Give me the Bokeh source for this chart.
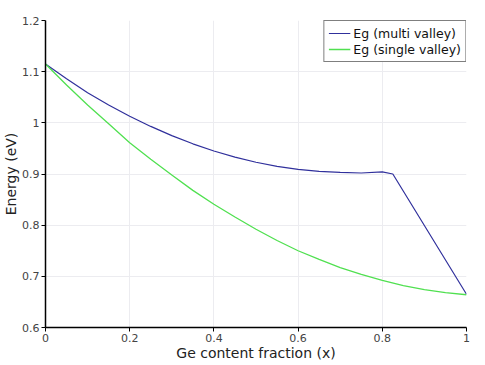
from bokeh.plotting import figure
from bokeh.embed import file_html
from bokeh.resources import INLINE
from bokeh.models import Range1d, FixedTicker, Legend, LegendItem

# Data
x_multi = [0.0, 0.05, 0.1, 0.15, 0.2, 0.25, 0.3, 0.35, 0.4, 0.45, 0.5, 0.55,
           0.6, 0.65, 0.7, 0.75, 0.8, 0.825, 1.0]
eg_multi = [1.115, 1.086, 1.059, 1.035, 1.013, 0.993, 0.975, 0.959, 0.945, 0.933,
            0.923, 0.915, 0.909, 0.905, 0.903, 0.902, 0.904, 0.900, 0.665]

x_single = [0.0, 0.05, 0.1, 0.15, 0.2, 0.25, 0.3, 0.35, 0.4, 0.45, 0.5, 0.55,
            0.6, 0.65, 0.7, 0.75, 0.8, 0.85, 0.9, 0.95, 1.0]
eg_single = [1.115, 1.074, 1.035, 0.998, 0.961, 0.929, 0.898, 0.868, 0.841, 0.816,
             0.792, 0.770, 0.750, 0.733, 0.717, 0.704, 0.692, 0.682, 0.674, 0.668, 0.664]

x_ticks = [0, 0.2, 0.4, 0.6, 0.8, 1]
y_ticks = [0.6, 0.7, 0.8, 0.9, 1.0, 1.1, 1.2]
x_tick_labels = {0: "0", 0.2: "0.2", 0.4: "0.4", 0.6: "0.6", 0.8: "0.8", 1: "1"}
y_tick_labels = {0.6: "0.6", 0.7: "0.7", 0.8: "0.8", 0.9: "0.9", 1.0: "1", 1.1: "1.1", 1.2: "1.2"}

FONT = "DejaVu Sans"

p = figure(frame_width=421, frame_height=307, output_backend="svg", toolbar_location=None,
           x_range=Range1d(0, 1), y_range=Range1d(0.6, 1.2),
           min_border_left=30, min_border_right=8, min_border_top=20, min_border_bottom=30)
p.outline_line_color = None
p.background_fill_color = "white"

r1 = p.line(x_multi, eg_multi, line_color="#30309c", line_width=1.2)
r2 = p.line(x_single, eg_single, line_color="#50e050", line_width=1.3)

for ax, ticks, labels, lab in ((p.xaxis[0], x_ticks, x_tick_labels, "Ge content fraction (x)"),
                               (p.yaxis[0], y_ticks, y_tick_labels, "Energy (eV)")):
    ax.ticker = FixedTicker(ticks=ticks)
    ax.major_label_overrides = labels
    ax.axis_label = lab
    ax.axis_label_text_font = FONT
    ax.axis_label_text_font_style = "normal"
    ax.axis_label_text_font_size = "14px"
    ax.axis_label_text_color = "#222222"
    ax.axis_label_standoff = 0
    ax.major_label_text_font = FONT
    ax.major_label_text_font_size = "11px"
    ax.major_label_text_color = "#444444"
    ax.major_label_standoff = 2
    ax.axis_line_color = "black"
    ax.axis_line_width = 1.5
    ax.major_tick_line_color = "black"
    ax.major_tick_out = 4
    ax.major_tick_in = 0
    ax.minor_tick_line_color = None

p.xgrid.ticker = FixedTicker(ticks=x_ticks)
p.ygrid.ticker = FixedTicker(ticks=y_ticks)
p.grid.grid_line_color = "#ececf0"
p.grid.grid_line_width = 1

legend = Legend(items=[LegendItem(label="Eg (multi valley)", renderers=[r1]),
                       LegendItem(label="Eg (single valley)", renderers=[r2])],
                location="top_right", margin=0, padding=4, spacing=0,
                border_line_color="black", border_line_width=1,
                label_text_font=FONT, label_text_font_size="12.5px",
                label_text_color="#111111",
                glyph_width=22, glyph_height=16, label_height=16, label_standoff=3,
                background_fill_alpha=1)
p.add_layout(legend)

open("out.html", "w").write(file_html(p, INLINE))
